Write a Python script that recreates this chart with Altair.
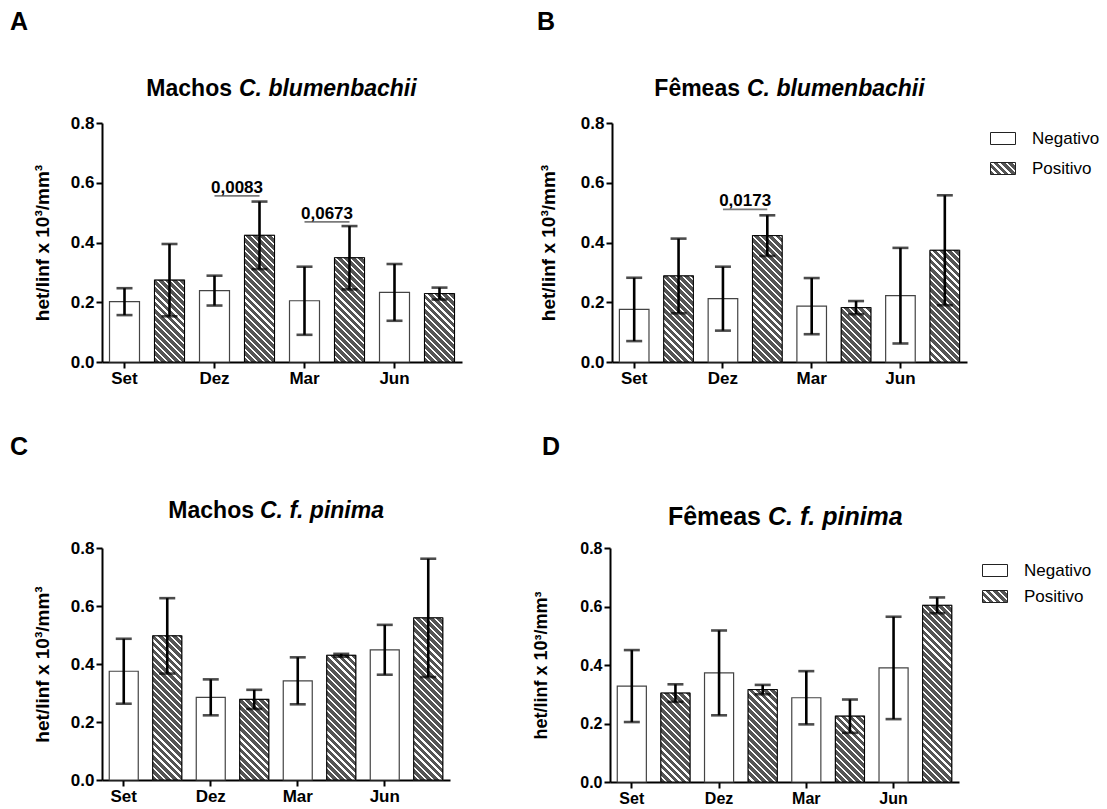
import math
import json
import altair as alt
import pandas as pd

FONT = "Liberation Sans"
YTITLE = "het/linf x 10³/mm³"

months = ["Set", "Dez", "Mar", "Jun"]
groups = ["Negativo", "Positivo"]

# Panel A - Machos C. blumenbachii
a_neg = [0.202, 0.239, 0.205, 0.233]
a_neg_err = [0.045, 0.050, 0.114, 0.095]
a_pos = [0.274, 0.424, 0.349, 0.229]
a_pos_err = [0.121, 0.113, 0.106, 0.020]
a_ann_month = ["Dez", "Mar"]
a_ann_y = [0.556, 0.469]
a_ann_txt = ["0,0083", "0,0673"]

# Panel B - Fêmeas C. blumenbachii
b_neg = [0.176, 0.212, 0.187, 0.222]
b_neg_err = [0.106, 0.107, 0.094, 0.160]
b_pos = [0.288, 0.423, 0.182, 0.374]
b_pos_err = [0.125, 0.068, 0.022, 0.184]
b_ann_month = ["Dez"]
b_ann_y = [0.511]
b_ann_txt = ["0,0173"]

# Panel C - Machos C. f. pinima
c_neg = [0.375, 0.285, 0.342, 0.449]
c_neg_err = [0.112, 0.062, 0.081, 0.086]
c_pos = [0.497, 0.278, 0.430, 0.559]
c_pos_err = [0.130, 0.033, 0.005, 0.204]

# Panel D - Fêmeas C. f. pinima
d_neg = [0.328, 0.373, 0.288, 0.390]
d_neg_err = [0.123, 0.145, 0.091, 0.175]
d_pos = [0.304, 0.316, 0.225, 0.604]
d_pos_err = [0.030, 0.016, 0.057, 0.027]

GRAY = "#555555"


def hatch(w, h, period=5.0, white=1.6):
    """Diagonal stripe pattern as a linear gradient over a w x h box."""
    r = h / w
    c = (1 + r) / (1 + r * r)
    D = (w + h) / math.sqrt(2)
    stops = []
    p = 0.0
    while p < D:
        a = p / D
        b = min((p + period - white) / D, 1.0)
        e = min((p + period) / D, 1.0)
        stops += [(a, GRAY), (b, GRAY), (b, "#ffffff"), (e, "#ffffff")]
        p += period
    return {
        "gradient": "linear",
        "x1": 0, "y1": 1, "x2": round(c, 5), "y2": round(1 - c * r, 5),
        "stops": [{"offset": round(o, 5), "color": col} for o, col in stops],
    }


LEG_GRAD = json.dumps(hatch(25, 12))


def panel(cfg):
    W, H = cfg["W"], cfg["H"]
    keys = [f"{m}|{g}" for m in months for g in ("N", "P")]
    rows = []
    for i, m in enumerate(months):
        rows.append(dict(k=f"{m}|N", grupo="Negativo", v=cfg["neg"][i],
                         lo=cfg["neg"][i] - cfg["ne"][i], hi=cfg["neg"][i] + cfg["ne"][i]))
        rows.append(dict(k=f"{m}|P", grupo="Positivo", v=cfg["pos"][i],
                         lo=cfg["pos"][i] - cfg["pe"][i], hi=cfg["pos"][i] + cfg["pe"][i]))
    df = pd.DataFrame(rows)

    xscale = alt.Scale(domain=keys, paddingInner=1 / 3, paddingOuter=1 / 6)
    xaxis = alt.Axis(values=[f"{m}|N" for m in months],
                     labelExpr="split(datum.value, '|')[0]", title=None,
                     labelAngle=0, labelFontSize=cfg["tick"], labelPadding=2,
                     tickSize=6)
    X = alt.X("k:N", scale=xscale, axis=xaxis, sort=keys)
    yscale = alt.Scale(domain=[0, 0.8], nice=False, zero=True)
    yaxis = alt.Axis(values=[0, 0.2, 0.4, 0.6, 0.8], format=".1f", title=YTITLE,
                     titleFontSize=cfg["ytsize"], titleX=cfg["ytx"], titleY=H / 2,
                     titleAngle=-90, titleBaseline="middle", titleAlign="center",
                     labelFontSize=cfg["tick"], labelPadding=2, tickSize=6)

    def Y(f):
        return alt.Y(f"{f}:Q", scale=yscale, axis=yaxis, title=YTITLE)

    if cfg["legend"]:
        leg = alt.Legend(orient="none", legendX=cfg["legx"], legendY=cfg["legy"],
                         title=None, symbolType="M-1,-0.48H1V0.48H-1Z", symbolSize=625,
                         symbolStrokeColor="#222", symbolStrokeWidth=1,
                         labelFont=FONT, labelFontSize=17, labelColor="black",
                         labelOffset=16, rowPadding=cfg["rowpad"], padding=0)
    else:
        leg = None
    fill_scale = alt.Scale(domain=groups, range=["#ffffff", {"expr": LEG_GRAD}])

    base = alt.Chart(df).mark_bar(stroke="#444", strokeWidth=1.2).encode(
        x=X, y=Y("v"),
        fill=alt.Fill("grupo:N", scale=fill_scale, legend=leg),
    )
    layers = [base]

    step = W / 8.0
    bw = step * 2 / 3
    for i, m in enumerate(months):
        g = hatch(bw, cfg["pos"][i] * H / 0.8)
        layers.append(
            alt.Chart(df).transform_filter(alt.datum.k == f"{m}|P")
            .mark_bar(fill=g, stroke="black", strokeWidth=1)
            .encode(x=X, y=Y("v"))
        )

    layers.append(alt.Chart(df).mark_rule(color="black", strokeWidth=2.6).encode(
        x=X, y=Y("lo"), y2="hi:Q"))
    layers.append(alt.Chart(df).mark_tick(color="black", thickness=2.6, size=16).encode(
        x=X, y=Y("lo")))
    layers.append(alt.Chart(df).mark_tick(color="black", thickness=2.6, size=16).encode(
        x=X, y=Y("hi")))

    if cfg.get("ann_m"):
        dfa = pd.DataFrame({
            "kN": [f"{m}|N" for m in cfg["ann_m"]],
            "kP": [f"{m}|P" for m in cfg["ann_m"]],
            "yv": cfg["ann_y"],
            "lab": cfg["ann_t"],
        })
        layers.append(alt.Chart(dfa).mark_rule(color="#7a7a7a", strokeWidth=1.6).encode(
            x=alt.X("kN:N", scale=xscale, axis=xaxis, sort=keys, bandPosition=0.5),
            x2=alt.X2("kP:N", bandPosition=0.5),
            y=Y("yv")))
        layers.append(alt.Chart(dfa).mark_text(
            font=FONT, fontWeight="bold", fontSize=17, dy=-3, dx=step / 2,
            baseline="alphabetic", align="center", color="black").encode(
            x=alt.X("kN:N", scale=xscale, axis=xaxis, sort=keys, bandPosition=0.5),
            y=Y("yv"), text="lab:N"))

    # title (two styles) and panel letter
    layers.append(alt.Chart(pd.DataFrame({"t": [cfg["t1"]]})).mark_text(
        font=FONT, fontWeight="bold", fontSize=cfg["tsize"], align="right",
        baseline="alphabetic", color="black").encode(
        text="t:N", x=alt.value(cfg["split"]), y=alt.value(cfg["tdy"])))
    layers.append(alt.Chart(pd.DataFrame({"t": [cfg["t2"]]})).mark_text(
        font=FONT, fontWeight="bold", fontStyle="italic", fontSize=cfg["tsize"],
        align="left", baseline="alphabetic", color="black").encode(
        text="t:N", x=alt.value(cfg["split2"]), y=alt.value(cfg["tdy"])))
    layers.append(alt.Chart(pd.DataFrame({"t": [cfg["letter"]]})).mark_text(
        font=FONT, fontWeight="bold", fontSize=25, align="left",
        baseline="top", color="black").encode(
        text="t:N", x=alt.value(cfg["lx"]), y=alt.value(cfg["ly"])))

    return alt.layer(*layers).properties(width=W, height=H)


A = panel(dict(W=360, H=239, neg=a_neg, ne=a_neg_err, pos=a_pos, pe=a_pos_err,
               tick=17, ytsize=19, ytx=-60, legend=False,
               ann_m=a_ann_month, ann_y=a_ann_y, ann_t=a_ann_txt,
               t1="Machos", t2="C. blumenbachii", tsize=23, split=130, split2=137,
               tdy=-27, letter="A", lx=-92, ly=-113))
B = panel(dict(W=355, H=239, neg=b_neg, ne=b_neg_err, pos=b_pos, pe=b_pos_err,
               tick=17, ytsize=19, ytx=-64, legend=True, legx=378, legy=2.5, rowpad=9,
               ann_m=b_ann_month, ann_y=b_ann_y, ann_t=b_ann_txt,
               t1="Fêmeas", t2="C. blumenbachii", tsize=23, split=128, split2=135,
               tdy=-27, letter="B", lx=-75, ly=-113))
C = panel(dict(W=348, H=232, neg=c_neg, ne=c_neg_err, pos=c_pos, pe=c_pos_err,
               tick=17, ytsize=19, ytx=-60, legend=False,
               t1="Machos", t2="C. f. pinima", tsize=23, split=152, split2=158,
               tdy=-30, letter="C", lx=-92, ly=-113))
D = panel(dict(W=349, H=234, neg=d_neg, ne=d_neg_err, pos=d_pos, pe=d_pos_err,
               tick=16, ytsize=18, ytx=-69, legend=True, legx=372, legy=9.5, rowpad=5,
               t1="Fêmeas", t2="C. f. pinima", tsize=25, split=151, split2=158,
               tdy=-23, letter="D", lx=-68, ly=-113))

row1 = alt.hconcat(A, B, spacing=75).resolve_scale(fill="independent").resolve_legend(fill="independent")
row2 = alt.hconcat(C, D, spacing=81).resolve_scale(fill="independent").resolve_legend(fill="independent")

chart = (
    alt.vconcat(row1, row2, spacing=49)
    .resolve_scale(fill="independent")
    .resolve_legend(fill="independent")
    .properties(padding={"left": 10, "top": 10, "right": 0, "bottom": 0}, background="white")
    .configure_view(stroke=None)
    .configure_axis(domainColor="black", domainWidth=2, tickColor="black", tickWidth=2,
                    labelFont=FONT, labelFontWeight="bold", labelColor="black",
                    titleFont=FONT, titleFontWeight="bold", titleColor="black", grid=False)
)

chart.save("out.html", embed_options={"renderer": "svg", "actions": False})
